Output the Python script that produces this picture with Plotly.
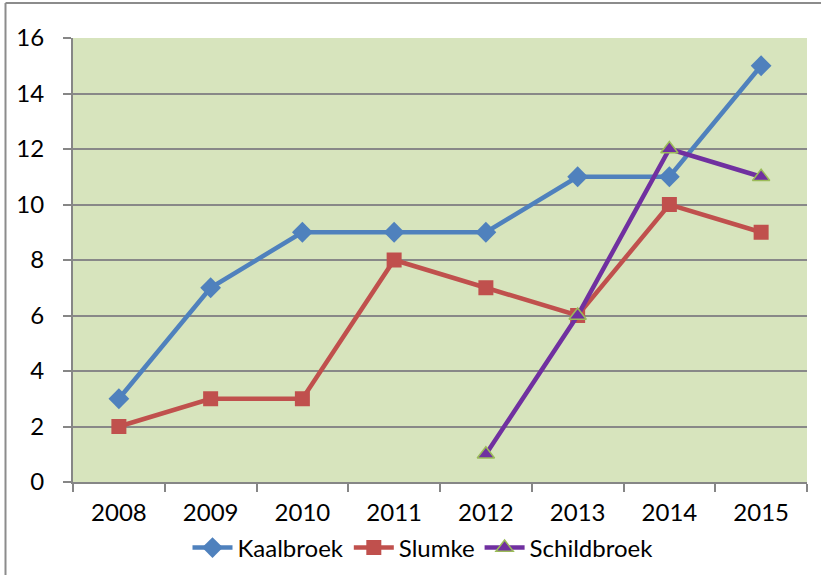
import plotly.graph_objects as go

years = ["2008", "2009", "2010", "2011", "2012", "2013", "2014", "2015"]
kaalbroek = [3, 7, 9, 9, 9, 11, 11, 15]
slumke = [2, 3, 3, 8, 7, 6, 10, 9]
schildbroek = [None, None, None, None, 1, 6, 12, 11]
y_ticks = [0, 2, 4, 6, 8, 10, 12, 14, 16]

FONT = "Lato, Carlito, Calibri, sans-serif"

fig = go.Figure()
fig.add_trace(go.Scatter(
    x=years, y=kaalbroek, name="Kaalbroek", mode="lines+markers",
    line=dict(color="#4F81BD", width=4.5),
    marker=dict(symbol="diamond", size=16, color="#4F81BD"),
))
fig.add_trace(go.Scatter(
    x=years, y=slumke, name="Slumke", mode="lines+markers",
    line=dict(color="#C0504D", width=4.5),
    marker=dict(symbol="square", size=15, color="#C0504D"),
))
fig.add_trace(go.Scatter(
    x=years, y=schildbroek, name="Schildbroek", mode="lines+markers",
    line=dict(color="#7030A0", width=4.5),
    marker=dict(symbol="triangle-up", size=15, color="#7030A0",
                line=dict(color="#9BBB59", width=1.5)),
))

W, H = 821, 575
L, R, T, B = 73, 14, 38, 93
pw, ph = W - L - R, H - T - B

def px(x):
    return (x - L) / pw

def py(y):
    return (H - B - y) / ph

fig.update_layout(
    width=W, height=H,
    margin=dict(l=L, r=R, t=T, b=B, autoexpand=False),
    paper_bgcolor="white",
    plot_bgcolor="#D7E4BD",
    font=dict(family=FONT, size=24, color="black"),
    showlegend=True,
    legend=dict(orientation="h", x=px(423), xanchor="center",
                y=py(548), yanchor="middle",
                font=dict(size=24), itemwidth=40, tracegroupgap=0,
                bgcolor="rgba(0,0,0,0)"),
    xaxis=dict(
        type="category", range=[-0.5, 7.5], tickson="boundaries",
        ticks="outside", ticklen=8, tickwidth=2, tickcolor="#868686",
        showline=True, linecolor="#868686", linewidth=2,
        showgrid=False, zeroline=False, tickfont=dict(size=24),
        automargin=False, ticklabelstandoff=8,
    ),
    yaxis=dict(
        range=[0, 16], tickvals=y_ticks,
        ticks="outside", ticklen=8, tickwidth=2, tickcolor="#868686",
        showline=True, linecolor="#868686", linewidth=2,
        showgrid=True, gridcolor="#888888", gridwidth=2,
        zeroline=False, tickfont=dict(size=24),
        automargin=False, ticklabelstandoff=14,
    ),
    shapes=[
        dict(type="line", xref="paper", yref="paper",
             x0=px(5.5), x1=px(5.5), y0=py(3), y1=py(580),
             line=dict(color="#8C8C8C", width=2)),
        dict(type="line", xref="paper", yref="paper",
             x0=px(5.5), x1=px(825), y0=py(3), y1=py(3),
             line=dict(color="#8C8C8C", width=2)),
    ],
)

fig.write_html(
    "out.html",
    config={"displayModeBar": False},
    post_script="document.body.style.margin='0';document.body.style.padding='0';",
)
